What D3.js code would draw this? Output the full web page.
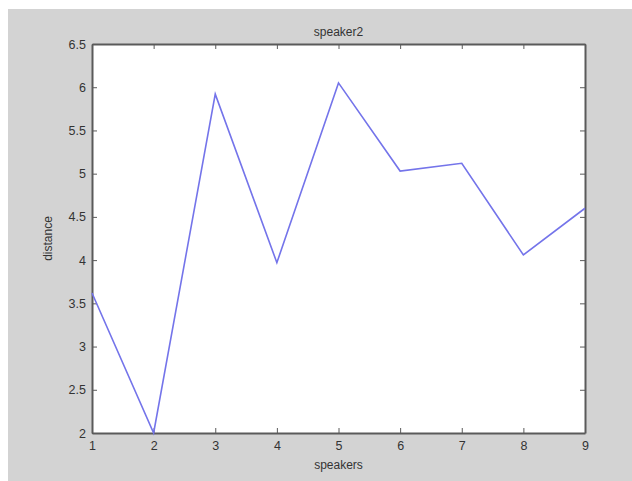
<!DOCTYPE html>
<html><head><meta charset="utf-8">
<script src="https://cdn.jsdelivr.net/npm/d3@7"></script>
<style>body{margin:0;background:#fff}svg{display:block}text{font-family:"Liberation Sans",Arial,sans-serif;fill:#333}</style>
</head><body><svg id="c" width="632" height="481"></svg>
<script>
const speakers = [1,2,3,4,5,6,7,8,9];
const distance = [3.62,2.0,5.92,3.97,6.05,5.03,5.12,4.06,4.60];
const yTicks = [2,2.5,3,3.5,4,4.5,5,5.5,6,6.5];
const xTicks = [1,2,3,4,5,6,7,8,9];
const title = "speaker2", xLabel = "speakers", yLabel = "distance";

const svg = d3.select("#c");
const L=92,T=44,R=585,B=433;
svg.append("rect").attr("x",8).attr("y",9).attr("width",624).attr("height",472).attr("fill","#d3d3d3");
svg.append("rect").attr("x",L).attr("y",T).attr("width",R-L).attr("height",B-T).attr("fill","#fff");
const x = d3.scaleLinear().domain([1,9]).range([L,R]);
const y = d3.scaleLinear().domain([2,6.5]).range([B,T]);
const ac="#5a5a5a";
const styleAxis=g=>{g.selectAll("path").attr("stroke",ac).attr("stroke-width",2);g.selectAll("line").attr("stroke",ac);g.selectAll("text").attr("fill","#3a3a3a").style("font-size","12.5px");};
svg.append("g").attr("transform",`translate(0,${B})`).call(d3.axisBottom(x).tickValues(xTicks).tickSize(-5).tickSizeOuter(0).tickPadding(8).tickFormat(d3.format("d"))).call(styleAxis);
svg.append("g").attr("transform",`translate(${L},0)`).call(d3.axisLeft(y).tickValues(yTicks).tickSize(-5).tickSizeOuter(0).tickPadding(6).tickFormat(d=>String(d))).call(styleAxis);
svg.append("g").attr("transform",`translate(0,${T})`).call(d3.axisTop(x).tickValues(xTicks).tickSize(-5).tickSizeOuter(0).tickFormat("")).call(styleAxis);
svg.append("g").attr("transform",`translate(${R},0)`).call(d3.axisRight(y).tickValues(yTicks).tickSize(-5).tickSizeOuter(0).tickFormat("")).call(styleAxis);
svg.append("path").datum(speakers.map((s,i)=>[s,distance[i]]))
  .attr("d",d3.line().x(d=>x(d[0])).y(d=>y(d[1])))
  .attr("fill","none").attr("stroke","#7474ea").attr("stroke-width",1.6);
svg.append("text").attr("x",(L+R)/2).attr("y",36).attr("text-anchor","middle").style("font-size","12px").text(title);
svg.append("text").attr("x",(L+R)/2).attr("y",469).attr("text-anchor","middle").style("font-size","12px").text(xLabel);
svg.append("text").attr("transform",`translate(52,${(T+B)/2}) rotate(-90)`).attr("text-anchor","middle").style("font-size","12px").text(yLabel);
</script></body></html>
